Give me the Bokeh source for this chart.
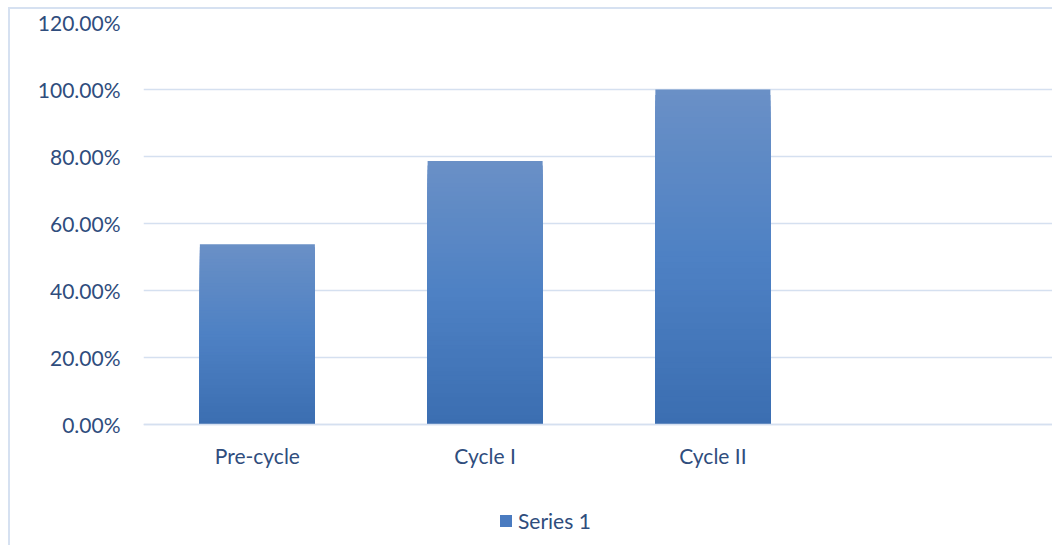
from bokeh.plotting import figure
from bokeh.models import FactorRange, Range1d, NumeralTickFormatter, Legend, LegendItem, FixedTicker
from bokeh.embed import file_html
from bokeh.resources import INLINE

categories = ["Pre-cycle", "Cycle I", "Cycle II"]
values = [0.537, 0.786, 1.00]
series_name = "Series 1"
y_ticks = [0.0, 0.2, 0.4, 0.6, 0.8, 1.0, 1.2]

FONT = "Lato"
TEXT = "#2f4d7d"
GRID = "#d5e0f0"

factors = categories + [" "]

p = figure(x_range=FactorRange(factors=factors, range_padding=0),
           y_range=Range1d(-0.369, 1.2),
           width=1044, height=538, output_backend="svg", toolbar_location=None,
           min_border_left=133, min_border_right=0, min_border_top=13, min_border_bottom=0)
p.styles = {"margin-left": "8px", "margin-top": "7px",
            "border-left": "2px solid #d6e1f1", "border-top": "2px solid #d6e1f1",
            "box-sizing": "border-box"}
p.outline_line_color = None

def lerp(c1, c2, t):
    return tuple(int(round(a + (b - a) * t)) for a, b in zip(c1, c2))

stops = [(0.0, (59, 110, 177)), (0.5, (78, 129, 196)), (1.0, (106, 144, 198))]

def grad(t):
    for (t0, c0), (t1, c1) in zip(stops[:-1], stops[1:]):
        if t <= t1:
            return "#%02x%02x%02x" % lerp(c0, c1, (t - t0) / (t1 - t0))
    return "#%02x%02x%02x" % stops[-1][1]

# gradient bars: nested strips from 0 up to a fraction of the value, tallest drawn first
N = 60
xs, tops, cols = [], [], []
for i in reversed(range(N)):
    for c, v in zip(categories, values):
        xs.append(c)
        tops.append(v * (i + 1) / N)
        cols.append(grad((i + 0.5) / N))

p.vbar(x=xs, bottom=0, top=tops, width=0.505, fill_color=cols, line_color=None)
leg_r = p.vbar(x=[categories[0]], top=[0], width=0.0, fill_color="#4a7bc0", line_color=None)

p.xgrid.grid_line_color = None
p.ygrid.grid_line_color = GRID
p.ygrid.grid_line_width = 1.5
p.yaxis.ticker = FixedTicker(ticks=y_ticks)
p.yaxis.formatter = NumeralTickFormatter(format="0.00%")
p.yaxis.axis_line_color = None
p.yaxis.major_tick_line_color = None
p.yaxis.minor_tick_line_color = None
p.yaxis.major_label_standoff = 17
p.xaxis.fixed_location = 0
p.xaxis.axis_line_color = GRID
p.xaxis.axis_line_width = 1.5
p.xaxis.major_tick_line_color = None
p.xaxis.major_label_standoff = 13
for ax in (p.xaxis, p.yaxis):
    ax.major_label_text_font = FONT
    ax.major_label_text_font_size = "21px"
    ax.major_label_text_color = TEXT

legend = Legend(items=[LegendItem(label=series_name, renderers=[leg_r])],
                location=(355, 14), orientation="horizontal",
                label_text_font=FONT, label_text_font_size="21px", label_text_color=TEXT,
                glyph_width=15, glyph_height=15, label_standoff=5,
                border_line_color=None, background_fill_alpha=0,
                margin=0, padding=0)
p.add_layout(legend, "center")

open("out.html", "w").write(file_html(p, INLINE))
